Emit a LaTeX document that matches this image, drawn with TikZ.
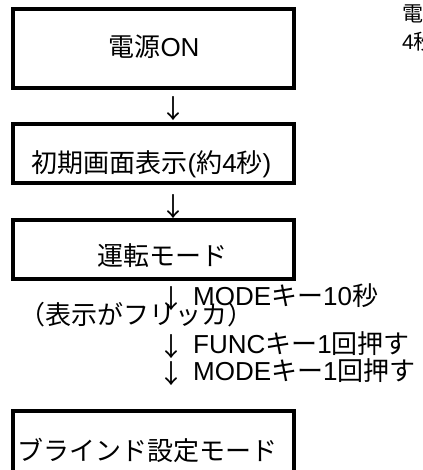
\documentclass[tikz,border=0pt]{standalone}
\usepackage{fontspec}
\setmainfont{Liberation Sans}
\newfontfamily\jp{Noto Sans CJK JP}
\begin{document}
\begin{tikzpicture}[x=1pt,y=-1pt,
  box/.style={draw,line width=4pt,inner sep=0pt,minimum width=281pt},
  lbl/.style={inner sep=0pt,font=\fontsize{26}{30}\selectfont},
  row/.style={lbl,anchor=base west,text height=18pt,text depth=1pt},
  arr/.style={lbl,anchor=base,text height=18pt,text depth=0pt},
  note/.style={inner sep=0pt,font=\fontsize{21}{25}\selectfont}]
\clip (0,0) rectangle (422,470);
\fill[white] (0,0) rectangle (422,470);
\node[box,minimum height=78.5pt] (b1) at (153.5,48.75) {};
\node[box,minimum height=59pt] (b2) at (153.5,153.5) {};
\node[box,minimum height=59pt] (b3) at (153.5,249.5) {};
\node[box,minimum height=78.5pt] (b4) at (153.5,450.25) {};
\node[lbl,anchor=base] (t1) at (154,57) {{\jp 電源}ON};
\node[lbl,anchor=base] (t2) at (151.5,173) {{\jp 初期画面表示}({\jp 約}4{\jp 秒})};
\node[lbl,anchor=base] (t3) at (162,265) {\jp 運転モード};
\node[lbl,anchor=base] (t4) at (147.5,460) {\jp ブラインド設定モード};
\node[arr] (a1) at (173,118.5) {\jp ↓};
\node[arr] (a2) at (173,216) {\jp ↓};
\node[arr] (a3) at (171,308) {\jp ↓};
\node[row] (s1) at (193,305) {MODE{\jp キー}10{\jp 秒}};
\node[lbl,anchor=base,text height=17pt,text depth=2pt] (s2) at (136,324) {\jp （表示がフリッカ）};
\node[arr] (a4) at (171,356) {\jp ↓};
\node[row] (s3) at (193,353) {FUNC{\jp キー}1{\jp 回押す}};
\node[arr] (a5) at (171,383) {\jp ↓};
\node[row] (s4) at (193,380) {MODE{\jp キー}1{\jp 回押す}};
\node[note,anchor=base west] (n1) at (402,22) {\jp 電源};
\node[note,anchor=base west] (n2) at (402,50) {4{\jp 秒}};
\end{tikzpicture}
\end{document}
